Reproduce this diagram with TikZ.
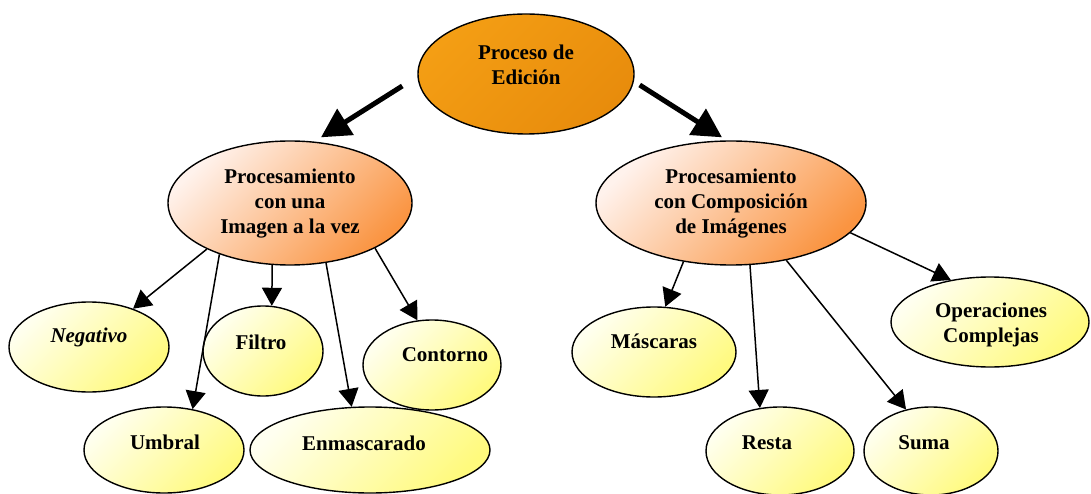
\documentclass[tikz,border=0pt]{standalone}
\usepackage{fontspec}
\setmainfont{Liberation Serif}
\usetikzlibrary{shapes.geometric,arrows.meta}
\definecolor{leafY}{RGB}{255,250,125}
\definecolor{leafW}{RGB}{255,255,240}
\definecolor{midO}{RGB}{250,148,65}
\definecolor{midW}{RGB}{255,242,236}
\definecolor{topO}{RGB}{244,158,20}
\definecolor{topD}{RGB}{232,140,12}
\begin{document}
\begin{tikzpicture}[x=1pt,y=-1pt,
  font=\fontsize{21}{25}\selectfont\bfseries,
  bub/.style={ellipse, draw, line width=1.4pt, inner sep=0pt},
  topbub/.style={bub, top color=topO, bottom color=topD, shading angle=45},
  midbub/.style={bub, top color=midW, bottom color=midO, shading angle=45},
  leaf/.style={bub, top color=leafW, bottom color=leafY, shading angle=45},
  conn/.style={line width=1.5pt, -{Triangle[length=18pt,width=20pt]}},
  bigconn/.style={line width=5pt, -{Triangle[length=29pt,width=30pt]}},
  txt/.style={align=center, inner sep=0pt}]
\useasboundingbox (0,0) rectangle (1091,494);

% main nodes
\node[topbub, minimum width=216pt, minimum height=120pt] (top) at (526,74) {};
\node[txt] (topt) at (526,65) {Proceso de\\Edición};

\node[midbub, minimum width=244pt, minimum height=124pt] (lmid) at (290,203) {};
\node[txt] (lmidt) at (290,204) {Procesamiento\\con una\\Imagen a la vez};

\node[midbub, minimum width=270pt, minimum height=124pt] (rmid) at (731,203) {};
\node[txt] (rmidt) at (731,204) {Procesamiento\\con Composición\\de Imágenes};

% leaves left
\node[leaf, minimum width=160pt, minimum height=90pt] (neg) at (89,347) {};
\node[txt] (negt) at (89,337) {\itshape Negativo};
\node[leaf, minimum width=120pt, minimum height=90pt] (fil) at (263,351) {};
\node[txt] (filt) at (261,342) {Filtro};
\node[leaf, minimum width=138pt, minimum height=90pt] (con) at (432,365) {};
\node[txt] (cont) at (445,355) {Contorno};
\node[leaf, minimum width=160pt, minimum height=86pt] (umb) at (164,450) {};
\node[txt] (umbt) at (165,442) {Umbral};
\node[leaf, minimum width=240pt, minimum height=86pt] (enm) at (370,450) {};
\node[txt] (enmt) at (364,443) {Enmascarado};

% leaves right
\node[leaf, minimum width=164pt, minimum height=90pt] (mas) at (654,352) {};
\node[txt] (mast) at (654,341) {Máscaras};
\node[leaf, minimum width=198pt, minimum height=90pt] (ope) at (990,322) {};
\node[txt] (opet) at (991,325) {Operaciones\\Complejas};
\node[leaf, minimum width=148pt, minimum height=88pt] (res) at (780,451) {};
\node[txt] (rest) at (767,443) {Resta};
\node[leaf, minimum width=134pt, minimum height=88pt] (sum) at (931,451) {};
\node[txt] (sumt) at (924,443) {Suma};

% big arrows
\draw[bigconn] ([xshift=-15pt,yshift=-12pt]top.west) -- ([xshift=31pt,yshift=3pt]lmid.north);
\draw[bigconn] ([xshift=5pt,yshift=-11pt]top.east) -- ([xshift=-9pt,yshift=3pt]rmid.north);

% thin arrows left
\draw[conn] (lmid.-151) -- (neg.41);
\draw[conn] (lmid.-144) -- (umb.55);
\draw[conn] (lmid.-106) -- (fil.79);
\draw[conn] (lmid.-59) -- (enm.113);
\draw[conn] (lmid.-28) -- (con.108);

% thin arrows right
\draw[conn] (rmid.-129) -- (mas.76);
\draw[conn] (rmid.-73) -- (res.115);
\draw[conn] (rmid.-46) -- (sum.121);
\draw[conn] (rmid.-14) -- (ope.133);
\end{tikzpicture}
\end{document}
